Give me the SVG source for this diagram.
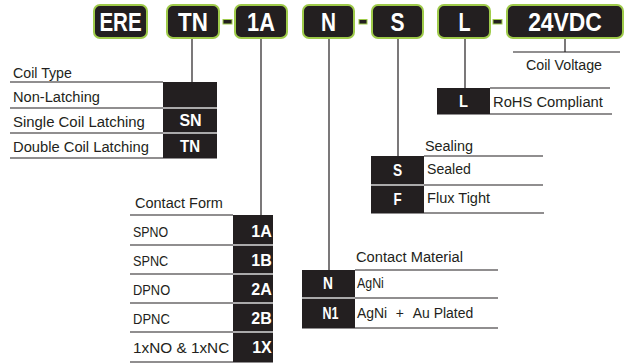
<svg xmlns="http://www.w3.org/2000/svg" width="627" height="363" viewBox="0 0 627 363">
<style>
.box{fill:#231f20;stroke:#9fcb4a;stroke-width:2}
.dash{fill:#231f20;stroke:#9fcb4a;stroke-width:1}
.bt{font-family:"Liberation Sans",Arial,sans-serif;font-weight:bold;font-size:26px;fill:#fff;text-anchor:middle}
.t{font-family:"Liberation Sans",Arial,sans-serif;font-size:15.5px;fill:#231f20}
.c{font-family:"Liberation Sans",Arial,sans-serif;font-weight:bold;font-size:16px;fill:#fff;text-anchor:middle}
.blk{fill:#231f20}
.ln{stroke:#231f20;stroke-width:1.2;fill:none}
.sep{stroke:#d9d9d9;stroke-width:1.5}
</style>
<g id="code">
<g id="b-ere"><rect class="box" x="94" y="5" width="53" height="33" rx="6"/><text class="bt" transform="translate(120.5,31) scale(0.79,1)">ERE</text></g>
<g id="b-tn"><rect class="box" x="167" y="5" width="52" height="33" rx="6"/><text class="bt" transform="translate(193,31) scale(0.86,1)">TN</text></g>
<rect class="dash" x="223" y="19.5" width="9" height="4.5"/>
<g id="b-1a"><rect class="box" x="235" y="5" width="52" height="33" rx="6"/><text class="bt" transform="translate(261,31) scale(0.84,1)">1A</text></g>
<g id="b-n"><rect class="box" x="303" y="5" width="51" height="33" rx="6"/><text class="bt" transform="translate(328.5,31) scale(0.8,1)">N</text></g>
<rect class="dash" x="359" y="19.5" width="8" height="4.5"/>
<g id="b-s"><rect class="box" x="372" y="5" width="51" height="33" rx="6"/><text class="bt" transform="translate(397.5,31) scale(0.81,1)">S</text></g>
<g id="b-l"><rect class="box" x="438" y="5" width="52" height="33" rx="6"/><text class="bt" transform="translate(464.5,31) scale(0.76,1)">L</text></g>
<rect class="dash" x="493" y="19.5" width="9" height="4.5"/>
<g id="b-v"><rect class="box" x="507" y="5" width="116" height="33" rx="6"/><text class="bt" transform="translate(565,31) scale(0.88,1)">24VDC</text></g>
</g>
<g id="connectors">
<line class="ln" x1="192" y1="39" x2="192" y2="82"/>
<line class="ln" x1="261" y1="39" x2="261" y2="215"/>
<line class="ln" x1="329" y1="39" x2="329" y2="270"/>
<line class="ln" x1="398" y1="39" x2="398" y2="156"/>
<line class="ln" x1="465" y1="39" x2="465" y2="88"/>
<line class="ln" x1="565" y1="39" x2="565" y2="52"/>
</g>
<g id="coil-voltage">
<line class="ln" x1="513" y1="52" x2="620" y2="52"/>
<text class="t" transform="translate(526,70) scale(0.92,1)">Coil Voltage</text>
</g>
<g id="rohs">
<rect class="blk" x="437" y="88" width="53" height="26"/>
<line class="ln" x1="490" y1="88" x2="610" y2="88"/>
<line class="ln" x1="437" y1="114" x2="612" y2="114"/>
<text class="c" transform="translate(463.5,107) scale(0.92,1)">L</text>
<text class="t" transform="translate(493,106.5) scale(0.953,1)">RoHS Compliant</text>
</g>
<g id="coil-type">
<text class="t" transform="translate(13,78) scale(0.916,1)">Coil Type</text>
<rect class="blk" x="163" y="82" width="54" height="76"/>
<line class="ln" x1="10" y1="82" x2="163" y2="82"/>
<line class="ln" x1="10" y1="108" x2="163" y2="108"/>
<line class="ln" x1="10" y1="133" x2="163" y2="133"/>
<line class="ln" x1="10" y1="158" x2="217" y2="158"/>
<line class="sep" x1="163" y1="108" x2="217" y2="108"/>
<line class="sep" x1="163" y1="133" x2="217" y2="133"/>
<text class="t" transform="translate(13,101.5) scale(0.944,1)">Non-Latching</text>
<text class="t" transform="translate(13,127) scale(0.963,1)">Single Coil Latching</text>
<text class="t" transform="translate(13,152) scale(0.951,1)">Double Coil Latching</text>
<text class="c" x="190.5" y="126">SN</text>
<text class="c" transform="translate(190,151.5) scale(0.94,1)">TN</text>
</g>
<g id="contact-form">
<text class="t" transform="translate(135,208) scale(0.937,1)">Contact Form</text>
<rect class="blk" x="233" y="215" width="40" height="147"/>
<line class="ln" x1="130" y1="215" x2="233" y2="215"/>
<line class="ln" x1="130" y1="245" x2="233" y2="245"/>
<line class="ln" x1="130" y1="274" x2="233" y2="274"/>
<line class="ln" x1="130" y1="303" x2="233" y2="303"/>
<line class="ln" x1="130" y1="332" x2="233" y2="332"/>
<line class="ln" x1="130" y1="362" x2="273" y2="362"/>
<line class="sep" x1="233" y1="245" x2="273" y2="245"/>
<line class="sep" x1="233" y1="274" x2="273" y2="274"/>
<line class="sep" x1="233" y1="303" x2="273" y2="303"/>
<line class="sep" x1="233" y1="332" x2="273" y2="332"/>
<text class="t" transform="translate(133,237) scale(0.8,1)">SPNO</text>
<text class="t" transform="translate(133,266) scale(0.82,1)">SPNC</text>
<text class="t" transform="translate(133,295) scale(0.83,1)">DPNO</text>
<text class="t" transform="translate(133,324) scale(0.84,1)">DPNC</text>
<text class="t" transform="translate(133,352.5) scale(0.99,1)">1xNO &amp; 1xNC</text>
<text class="c" x="261.5" y="237">1A</text>
<text class="c" x="261.5" y="266">1B</text>
<text class="c" x="261.5" y="295">2A</text>
<text class="c" x="261.5" y="324">2B</text>
<text class="c" x="262" y="353">1X</text>
</g>
<g id="contact-material">
<text class="t" transform="translate(356,262) scale(0.948,1)">Contact Material</text>
<rect class="blk" x="302" y="270" width="53" height="58"/>
<line class="ln" x1="355" y1="270" x2="498" y2="270"/>
<line class="ln" x1="355" y1="298" x2="498" y2="298"/>
<line class="ln" x1="302" y1="328" x2="498" y2="328"/>
<line class="sep" x1="302" y1="298" x2="355" y2="298"/>
<text class="t" transform="translate(357,288) scale(0.8,1)">AgNi</text>
<text class="t" transform="translate(357,318) scale(0.9,1)">AgNi<tspan x="43">+</tspan><tspan x="62">Au Plated</tspan></text>
<text class="c" transform="translate(328,289) scale(0.86,1)">N</text>
<text class="c" transform="translate(330.5,319) scale(0.78,1)">N1</text>
</g>
<g id="sealing">
<text class="t" transform="translate(425,151) scale(0.93,1)">Sealing</text>
<rect class="blk" x="371" y="156" width="53" height="57"/>
<line class="ln" x1="424" y1="156" x2="543" y2="156"/>
<line class="ln" x1="424" y1="185" x2="543" y2="185"/>
<line class="ln" x1="371" y1="213" x2="544" y2="213"/>
<line class="sep" x1="371" y1="185" x2="424" y2="185"/>
<text class="t" transform="translate(427,174) scale(0.91,1)">Sealed</text>
<text class="t" transform="translate(427,203) scale(0.94,1)">Flux Tight</text>
<text class="c" transform="translate(397.5,176) scale(0.86,1)">S</text>
<text class="c" transform="translate(397.5,205) scale(0.84,1)">F</text>
</g>
</svg>
